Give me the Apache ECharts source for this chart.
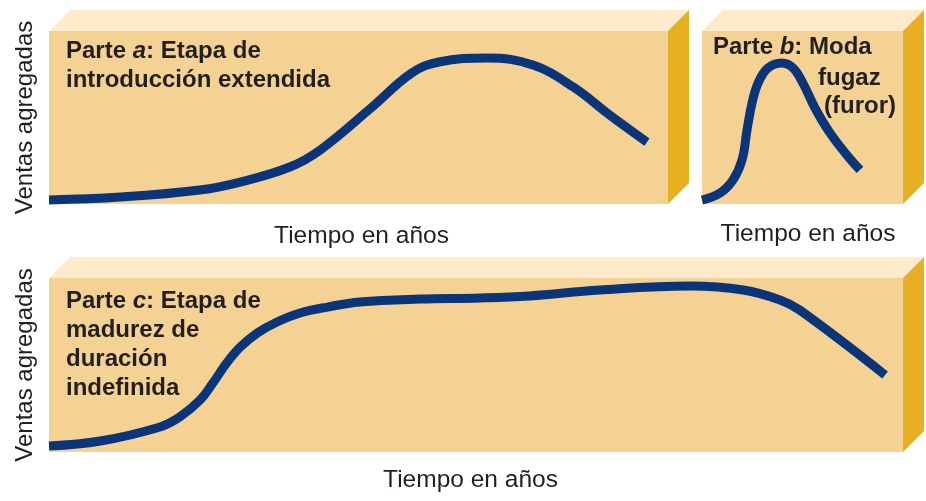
<!DOCTYPE html>
<html>
<head>
<meta charset="utf-8">
<script src="https://cdn.jsdelivr.net/npm/echarts@6/dist/echarts.min.js"></script>
<style>
html, body { margin: 0; padding: 0; background: #fff; }
#chart { width: 926px; height: 501px; }
</style>
</head>
<body>
<div id="chart"></div>
<script>
// Parte a: etapa de introducción extendida
var aTiempo = [0, 11.5, 24.4, 30.9, 38.9, 43.8, 51.9, 58.6, 63.0, 70.8, 78.2, 84.7, 90.6, 96.6];
var aVentas = [2.3, 4.0, 8.1, 12.7, 21.4, 31.2, 55.1, 75.7, 82.1, 84.4, 80.3, 67.6, 51.4, 35.8];

// Parte b: moda fugaz (furor)
var bTiempo = [0, 9.0, 15.4, 19.9, 22.4, 24.9, 27.9, 32.8, 39.8, 45.3, 50.2, 56.2, 63.7, 72.1, 78.6];
var bVentas = [2.3, 6.4, 13.9, 25.4, 42.8, 58.4, 69.9, 78.6, 81.5, 78.6, 69.9, 55.5, 41.0, 28.3, 19.7];

// Parte c: etapa de madurez de duración indefinida
var cTiempo = [0, 6.0, 13.0, 15.3, 17.7, 19.2, 20.8, 22.4, 24.4, 26.7, 29.4, 32.6, 36.4, 43.4, 50.5, 56.3, 64.5, 75.1, 81.3, 85.6, 87.9, 97.9];
var cVentas = [3.4, 6.3, 14.4, 20.1, 29.9, 39.7, 51.1, 60.3, 68.4, 74.7, 79.9, 83.3, 86.2, 87.9, 88.5, 89.7, 93.1, 95.4, 93.1, 87.4, 81.6, 44.3];

var ejeX = 'Tiempo en años';
var ejeY = 'Ventas agregadas';

var fuente = 'Liberation Sans';
var tinta = '#231f20';

function pares(xs, ys) {
    return xs.map(function (x, i) { return [x, ys[i]]; });
}

// caja en 3D: la cara frontal es el fondo del grid, aquí se dibujan la tapa y el lado
function caja(idx) {
    return {
        type: 'custom',
        xAxisIndex: idx,
        yAxisIndex: idx,
        silent: true,
        z: 1,
        data: [[0, 0, 100, 100]],
        renderItem: function (params, api) {
            var p0 = api.coord([api.value(0), api.value(3)]);
            var p1 = api.coord([api.value(2), api.value(3)]);
            var p2 = api.coord([api.value(2), api.value(1)]);
            var d = 21;
            return {
                type: 'group',
                children: [{
                    type: 'polygon',
                    shape: { points: [p0, [p0[0] + d, p0[1] - d], [p1[0] + d, p1[1] - d], p1] },
                    style: { fill: '#fdebcc' }
                }, {
                    type: 'polygon',
                    shape: { points: [p1, [p1[0] + d, p1[1] - d], [p2[0] + d, p2[1] - d], p2] },
                    style: { fill: '#e6b022' }
                }]
            };
        }
    };
}

function curva(idx, datos) {
    return {
        type: 'line',
        xAxisIndex: idx,
        yAxisIndex: idx,
        data: datos,
        smooth: 0.4,
        symbol: 'none',
        z: 3,
        lineStyle: { color: '#0b357b', width: 9, cap: 'butt' }
    };
}

// pad: desplaza el nombre del eje a izquierda/derecha
function ejeXcfg(idx, gap, pad) {
    return {
        gridIndex: idx, type: 'value', min: 0, max: 100,
        name: ejeX, nameLocation: 'middle', nameGap: gap,
        nameTextStyle: { fontFamily: fuente, fontSize: 24.5, color: tinta, padding: pad },
        axisLine: { show: false }, axisTick: { show: false },
        axisLabel: { show: false }, splitLine: { show: false }
    };
}

function ejeYcfg(idx, nombre) {
    return {
        gridIndex: idx, type: 'value', min: 0, max: 100,
        name: nombre, nameLocation: 'middle', nameGap: 12, nameRotate: 90,
        nameTextStyle: { fontFamily: fuente, fontSize: 24, color: tinta },
        axisLine: { show: false }, axisTick: { show: false },
        axisLabel: { show: false }, splitLine: { show: false }
    };
}

var estiloTitulo = {
    fontFamily: fuente, fontSize: 24, fontWeight: 'bold', color: tinta, lineHeight: 29,
    rich: { i: { fontFamily: fuente, fontSize: 24, fontWeight: 'bold', fontStyle: 'italic', color: tinta, lineHeight: 29 } }
};

var myChart = echarts.init(document.getElementById('chart'));

var option = {
    animation: false,
    title: [
        { text: 'Parte {i|a}: Etapa de\nintroducción extendida', left: 66, top: 37, padding: 0, textStyle: estiloTitulo },
        { text: 'Parte {i|b}: Moda', left: 713, top: 33, padding: 0, textStyle: estiloTitulo },
        { text: 'fugaz', left: 818, top: 64, padding: 0, textStyle: estiloTitulo },
        { text: '(furor)', left: 824, top: 92, padding: 0, textStyle: estiloTitulo },
        { text: 'Parte {i|c}: Etapa de\nmadurez de\nduración\nindefinida', left: 66, top: 287, padding: 0, textStyle: estiloTitulo }
    ],
    grid: [
        { left: 49, top: 31, width: 619, height: 173, show: true, backgroundColor: '#f3d293', borderWidth: 0 },
        { left: 702, top: 31, width: 201, height: 173, show: true, backgroundColor: '#f3d293', borderWidth: 0 },
        { left: 49, top: 278, width: 854, height: 174, show: true, backgroundColor: '#f3d293', borderWidth: 0 }
    ],
    xAxis: [ejeXcfg(0, 20, [0, 0, 0, 6]), ejeXcfg(1, 18, [0, 0, 0, 11]), ejeXcfg(2, 16, [0, 11, 0, 0])],
    yAxis: [ejeYcfg(0, ejeY), ejeYcfg(1, ''), ejeYcfg(2, ejeY)],
    series: [
        caja(0), caja(1), caja(2),
        curva(0, pares(aTiempo, aVentas)),
        curva(1, pares(bTiempo, bVentas)),
        curva(2, pares(cTiempo, cVentas))
    ]
};

myChart.setOption(option);

window.addEventListener('resize', function () {
    myChart.resize();
});
</script>
</body>
</html>
